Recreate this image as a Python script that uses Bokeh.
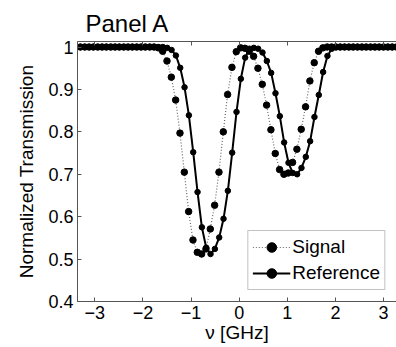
from bokeh.plotting import figure
from bokeh.models import LinearAxis, FixedTicker, Range1d
from bokeh.embed import file_html
from bokeh.resources import INLINE

FONT = "Liberation Sans"

# Frequency detuning (GHz) and normalized transmission for the two scans
signal_nu = [
    -3.30, -3.21, -3.12, -3.03, -2.94, -2.85, -2.76, -2.67, -2.58, -2.49,
    -2.40, -2.31, -2.22, -2.13, -2.04, -1.95, -1.86, -1.77, -1.68, -1.59,
    -1.50, -1.41, -1.32, -1.23, -1.14, -1.05, -0.96, -0.87, -0.78, -0.69,
    -0.60, -0.51, -0.42, -0.33, -0.24, -0.15, -0.06, 0.03, 0.12, 0.21,
    0.30, 0.39, 0.48, 0.57, 0.66, 0.75, 0.84, 0.93, 1.02, 1.11,
    1.20, 1.29, 1.38, 1.47, 1.56, 1.65, 1.74, 1.83, 1.92, 2.01,
    2.10, 2.19, 2.28, 2.37, 2.46, 2.55, 2.64, 2.73, 2.82, 2.91,
    3.00, 3.09, 3.18, 3.27,
]
signal_t = [
    1.0, 1.0, 1.0, 1.0, 1.0, 1.0, 1.0, 1.0, 1.0, 1.0,
    1.0, 1.0, 1.0, 1.0, 1.0, 1.0, 1.0, 1.0, 0.998, 0.990,
    0.967, 0.929, 0.875, 0.797, 0.705, 0.612, 0.545, 0.516, 0.512, 0.524,
    0.571, 0.627, 0.705, 0.800, 0.888, 0.952, 0.989, 0.998, 0.997, 0.990,
    0.978, 0.950, 0.912, 0.863, 0.805, 0.749, 0.711, 0.700, 0.703, 0.728,
    0.759, 0.806, 0.859, 0.920, 0.963, 0.990, 0.998, 1.0, 1.0, 1.0,
    1.0, 1.0, 1.0, 1.0, 1.0, 1.0, 1.0, 1.0, 1.0, 1.0,
    1.0, 1.0, 1.0, 1.0,
]

reference_nu = [
    -3.295, -3.205, -3.115, -3.025, -2.935, -2.845, -2.755, -2.665, -2.575, -2.485,
    -2.395, -2.305, -2.215, -2.125, -2.035, -1.945, -1.855, -1.765, -1.675, -1.585,
    -1.495, -1.405, -1.315, -1.225, -1.135, -1.045, -0.955, -0.865, -0.775, -0.685,
    -0.595, -0.505, -0.415, -0.325, -0.235, -0.145, -0.055, 0.035, 0.125, 0.215,
    0.305, 0.395, 0.485, 0.575, 0.665, 0.755, 0.845, 0.935, 1.025, 1.115,
    1.205, 1.295, 1.385, 1.475, 1.565, 1.655, 1.745, 1.835, 1.925, 2.015,
    2.105, 2.195, 2.285, 2.375, 2.465, 2.555, 2.645, 2.735, 2.825, 2.915,
    3.005, 3.095, 3.185, 3.275,
]
reference_t = [
    1.0, 1.0, 1.0, 1.0, 1.0, 1.0, 1.0, 1.0, 1.0, 1.0,
    1.0, 1.0, 1.0, 1.0, 1.0, 1.0, 1.0, 1.0, 1.0, 1.0,
    0.998, 0.993, 0.980, 0.951, 0.905, 0.839, 0.752, 0.658, 0.575, 0.527,
    0.512, 0.524, 0.551, 0.595, 0.661, 0.751, 0.847, 0.925, 0.975, 0.996,
    0.998, 0.996, 0.987, 0.967, 0.939, 0.891, 0.837, 0.775, 0.727, 0.703,
    0.700, 0.715, 0.741, 0.778, 0.835, 0.887, 0.941, 0.979, 0.996, 1.0,
    1.0, 1.0, 1.0, 1.0, 1.0, 1.0, 1.0, 1.0, 1.0, 1.0,
    1.0, 1.0, 1.0, 1.0,
]

x_ticks = [-3, -2, -1, 0, 1, 2, 3]
x_tick_labels = ["\u22123", "\u22122", "\u22121", "0", "1", "2", "3"]
y_ticks = [0.4, 0.5, 0.6, 0.7, 0.8, 0.9, 1.0]
y_tick_labels = ["0.4", "0.5", "0.6", "0.7", "0.8", "0.9", "1"]

AXIS_COLOR = "#555555"

p = figure(
    width=396, height=347,
    x_range=Range1d(-3.36, 3.27), y_range=Range1d(0.4, 1.013),
    output_backend="svg", toolbar_location=None,
    min_border_left=77, min_border_right=0, min_border_top=41, min_border_bottom=46,
)
p.outline_line_color = None
p.xgrid.visible = False
p.ygrid.visible = False
p.background_fill_color = "white"
p.border_fill_color = "white"

p.title.text = "Panel A"
p.title.text_font = FONT
p.title.text_font_size = "24px"
p.title.text_font_style = "normal"
p.title.text_color = "black"
p.title.align = "left"
p.title.offset = 8

for ax, ticks, labels in ((p.xaxis[0], x_ticks, x_tick_labels), (p.yaxis[0], y_ticks, y_tick_labels)):
    ax.ticker = FixedTicker(ticks=ticks)
    ax.major_label_overrides = {t: l for t, l in zip(ticks, labels)}
    ax.major_label_text_font = FONT
    ax.major_label_text_font_size = "18px"
    ax.major_label_text_color = "black"
    ax.major_tick_in = 4
    ax.major_tick_out = 0
    ax.minor_tick_line_color = None
    ax.axis_line_color = AXIS_COLOR
    ax.major_tick_line_color = AXIS_COLOR
    ax.axis_label_text_font = FONT
    ax.axis_label_text_font_style = "normal"
    ax.axis_label_text_color = "black"
    ax.major_label_standoff = 4

p.xaxis.axis_label = "\u03bd [GHz]"
p.xaxis.axis_label_text_font_size = "19px"
p.xaxis.axis_label_standoff = 0
p.yaxis.axis_label = "Normalized Transmission"
p.yaxis.axis_label_text_font_size = "19px"
p.yaxis.axis_label_standoff = 8

# Box edge along the top with inward ticks and no labels
top = LinearAxis(
    ticker=FixedTicker(ticks=x_ticks),
    major_label_overrides={t: "" for t in x_ticks},
    major_label_standoff=0,
    major_tick_in=4, major_tick_out=0,
    minor_tick_line_color=None,
    axis_line_color=AXIS_COLOR, major_tick_line_color=AXIS_COLOR,
)
p.add_layout(top, "above")

# Signal: dotted trace with filled circles
p.line(signal_nu, signal_t, line_color="#666666", line_width=1.2, line_dash="1 2",
       legend_label="Signal")
p.scatter(signal_nu, signal_t, size=6.5, marker="circle", fill_color="black",
          line_color="black", legend_label="Signal")

# Reference: solid trace with filled circles
p.line(reference_nu, reference_t, line_color="black", line_width=2,
       legend_label="Reference")
p.scatter(reference_nu, reference_t, size=5.5, marker="circle", fill_color="black",
          line_color="black", legend_label="Reference")

lg = p.legend[0]
lg.location = "bottom_right"
lg.margin = 11
lg.label_text_font = FONT
lg.label_text_font_size = "19px"
lg.label_text_color = "black"
lg.glyph_width = 38
lg.glyph_height = 24
lg.label_height = 24
lg.label_standoff = 2
lg.padding = 4
lg.spacing = 2
lg.border_line_color = "#888888"
lg.border_line_width = 1
lg.background_fill_color = "white"
lg.background_fill_alpha = 1.0

open("out.html", "w").write(file_html(p, INLINE))
